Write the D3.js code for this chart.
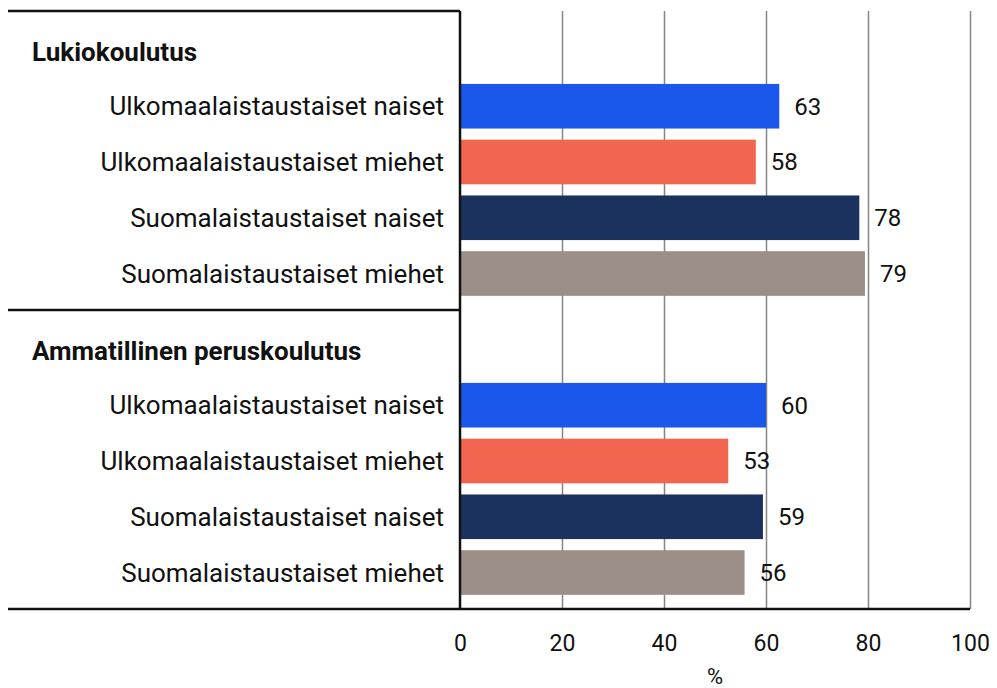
<!DOCTYPE html>
<html>
<head>
<meta charset="utf-8">
<script src="https://cdn.jsdelivr.net/npm/d3@7"></script>
<style>
  html, body { margin: 0; padding: 0; background: #fff; }
  svg { display: block; font-family: Roboto, "Noto Sans", sans-serif; }
</style>
</head>
<body>
<svg id="chart" width="997" height="688"></svg>
<script>
// ---- data ----
const sections = ["Lukiokoulutus", "Ammatillinen peruskoulutus"];
const groups = [
  "Ulkomaalaistaustaiset naiset",
  "Ulkomaalaistaustaiset miehet",
  "Suomalaistaustaiset naiset",
  "Suomalaistaustaiset miehet"
];
const lukioValues = [62.6, 58.0, 78.3, 79.4];
const ammatillinenValues = [60.0, 52.6, 59.4, 55.8];
const groupColors = ["#1c57eb", "#f2654e", "#1c325e", "#9c8f88"];
const xTicks = [0, 20, 40, 60, 80, 100];
const xTitle = "%";

const sectionValues = [lukioValues, ammatillinenValues];
const rows = [];
sections.forEach((s, si) => {
  groups.forEach((g, gi) => rows.push({ section: s, group: g, value: sectionValues[si][gi], color: groupColors[gi] }));
});

// ---- layout ----
const mLeft = 8, plotLeft = 460, plotRight = 970, mTop = 11, mBottom = 609;

const svg = d3.select("#chart");
const x = d3.scaleLinear().domain([0, 100]).range([plotLeft, plotRight]);
const ySection = d3.scaleBand().domain(sections).range([mTop, mBottom]);
const yInner = d3.scaleBand().domain(["__header", ...groups])
  .range([6, ySection.bandwidth() - 3]).paddingInner(0.2).paddingOuter(0.2);

// gridlines
svg.append("g")
  .attr("transform", `translate(0,${mBottom})`)
  .call(d3.axisBottom(x).tickValues(xTicks.slice(1)).tickSize(-(mBottom - mTop)).tickFormat(""))
  .call(g => g.select(".domain").remove())
  .call(g => g.selectAll(".tick line").attr("stroke", "#858585").attr("stroke-width", 1.5));

// bars
svg.append("g").selectAll("rect").data(rows).join("rect")
  .attr("x", x(0))
  .attr("y", d => ySection(d.section) + yInner(d.group))
  .attr("width", d => x(d.value) - x(0))
  .attr("height", yInner.bandwidth())
  .attr("fill", d => d.color);

// value labels
svg.append("g").selectAll("text").data(rows).join("text")
  .attr("x", d => x(d.value) + 15)
  .attr("y", d => ySection(d.section) + yInner(d.group) + yInner.bandwidth() / 2)
  .attr("dy", "0.35em")
  .attr("font-size", 24)
  .attr("fill", "#111")
  .text(d => Math.round(d.value));

// category labels
svg.append("g").selectAll("text").data(rows).join("text")
  .attr("x", plotLeft - 16)
  .attr("y", d => ySection(d.section) + yInner(d.group) + yInner.bandwidth() / 2)
  .attr("dy", "0.35em")
  .attr("text-anchor", "end")
  .attr("font-size", 26)
  .attr("fill", "#111")
  .text(d => d.group);

// section headers
svg.append("g").selectAll("text").data(sections).join("text")
  .attr("x", 32)
  .attr("y", d => ySection(d) + yInner("__header") + yInner.bandwidth() / 2 + 1)
  .attr("dy", "0.35em")
  .attr("font-size", 26)
  .attr("font-weight", 700)
  .attr("fill", "#111")
  .text(d => d);

// frame lines
const lines = svg.append("g").attr("stroke", "#111").attr("stroke-width", 2.5);
sections.forEach(s => {
  lines.append("line").attr("x1", mLeft).attr("x2", plotLeft).attr("y1", ySection(s)).attr("y2", ySection(s));
});
lines.append("line").attr("x1", mLeft).attr("x2", plotRight).attr("y1", mBottom).attr("y2", mBottom);
lines.append("line").attr("x1", plotLeft).attr("x2", plotLeft).attr("y1", mTop).attr("y2", mBottom);

// x axis tick labels
svg.append("g")
  .attr("transform", `translate(0,${mBottom})`)
  .call(d3.axisBottom(x).tickValues(xTicks).tickSize(0).tickPadding(26).tickFormat(d3.format("d")))
  .call(g => g.select(".domain").remove())
  .call(g => g.selectAll("text").attr("font-size", 23).attr("font-family", "Roboto, sans-serif").attr("fill", "#111"));

// x title
svg.append("text")
  .attr("x", (plotLeft + plotRight) / 2)
  .attr("y", 676)
  .attr("dy", "0.35em")
  .attr("text-anchor", "middle")
  .attr("font-size", 22)
  .attr("fill", "#111")
  .text(xTitle);
</script>
</body>
</html>
